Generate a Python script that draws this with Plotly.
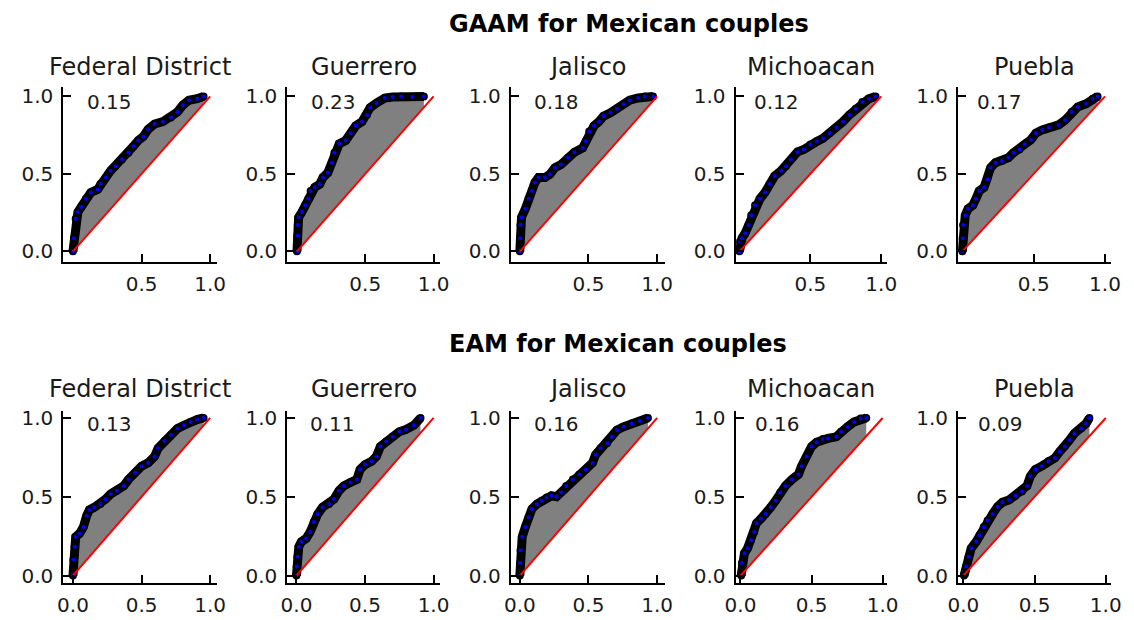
import plotly.graph_objects as go

states = ["Federal District", "Guerrero", "Jalisco", "Michoacan", "Puebla"]
row_titles = ["GAAM for Mexican couples", "EAM for Mexican couples"]

gaam_gini = [0.15, 0.23, 0.18, 0.12, 0.17]
eam_gini = [0.13, 0.11, 0.16, 0.16, 0.09]

equality = [0.0, 1.0]

gaam_fd_x = [0, 0.007, 0.02, 0.036, 0.06, 0.095, 0.13, 0.18, 0.20, 0.24, 0.274, 0.31, 0.357, 0.405, 0.44, 0.476, 0.512, 0.548, 0.595, 0.655, 0.714, 0.762, 0.80, 0.845, 0.905, 0.952]
gaam_fd_y = [0, 0.085, 0.21, 0.254, 0.286, 0.34, 0.38, 0.40, 0.434, 0.477, 0.52, 0.55, 0.593, 0.636, 0.678, 0.716, 0.74, 0.788, 0.822, 0.837, 0.864, 0.90, 0.943, 0.975, 0.985, 1.0]

gaam_gro_x = [0, 0.003, 0.006, 0.012, 0.036, 0.06, 0.083, 0.10, 0.13, 0.167, 0.19, 0.226, 0.255, 0.274, 0.31, 0.357, 0.393, 0.43, 0.476, 0.512, 0.536, 0.583, 0.643, 0.70, 0.762, 0.845, 0.929]
gaam_gro_y = [0, 0.10, 0.17, 0.22, 0.254, 0.297, 0.34, 0.39, 0.413, 0.434, 0.477, 0.508, 0.572, 0.636, 0.695, 0.716, 0.763, 0.81, 0.837, 0.88, 0.928, 0.958, 0.989, 0.996, 1.0, 0.996, 1.0]

gaam_jal_x = [0, 0.002, 0.005, 0.012, 0.04, 0.064, 0.088, 0.11, 0.136, 0.183, 0.22, 0.255, 0.30, 0.35, 0.398, 0.457, 0.48, 0.505, 0.54, 0.576, 0.61, 0.66, 0.707, 0.755, 0.80, 0.862, 0.91, 0.97]
gaam_jal_y = [0, 0.085, 0.17, 0.22, 0.275, 0.34, 0.39, 0.445, 0.477, 0.477, 0.498, 0.54, 0.56, 0.604, 0.64, 0.667, 0.71, 0.773, 0.81, 0.837, 0.873, 0.894, 0.92, 0.949, 0.975, 0.99, 1.0, 1.0]

gaam_mic_x = [0, 0.004, 0.018, 0.04, 0.064, 0.083, 0.11, 0.145, 0.18, 0.213, 0.248, 0.294, 0.328, 0.362, 0.41, 0.454, 0.50, 0.546, 0.59, 0.637, 0.683, 0.73, 0.775, 0.82, 0.867, 0.913, 0.96]
gaam_mic_y = [0, 0.064, 0.085, 0.117, 0.17, 0.233, 0.297, 0.34, 0.38, 0.434, 0.487, 0.52, 0.55, 0.593, 0.642, 0.657, 0.69, 0.71, 0.73, 0.763, 0.80, 0.837, 0.88, 0.92, 0.964, 0.985, 1.0]

gaam_pue_x = [0, 0.002, 0.005, 0.02, 0.04, 0.073, 0.095, 0.118, 0.152, 0.175, 0.198, 0.232, 0.277, 0.323, 0.357, 0.40, 0.436, 0.48, 0.516, 0.56, 0.607, 0.675, 0.72, 0.766, 0.81, 0.868, 0.914, 0.948]
gaam_pue_y = [0, 0.085, 0.17, 0.233, 0.275, 0.297, 0.34, 0.39, 0.413, 0.466, 0.54, 0.572, 0.583, 0.604, 0.636, 0.657, 0.69, 0.72, 0.763, 0.784, 0.80, 0.816, 0.847, 0.90, 0.932, 0.953, 0.985, 1.0]

eam_fd_x = [0, 0.003, 0.012, 0.02, 0.048, 0.076, 0.10, 0.12, 0.155, 0.20, 0.238, 0.274, 0.32, 0.37, 0.405, 0.452, 0.50, 0.548, 0.595, 0.62, 0.667, 0.714, 0.762, 0.81, 0.857, 0.905, 0.952]
eam_fd_y = [0, 0.10, 0.183, 0.246, 0.267, 0.308, 0.38, 0.417, 0.433, 0.454, 0.485, 0.517, 0.538, 0.569, 0.61, 0.652, 0.694, 0.715, 0.756, 0.808, 0.854, 0.892, 0.933, 0.954, 0.975, 0.99, 1.0]

eam_gro_x = [0, 0.002, 0.007, 0.017, 0.036, 0.07, 0.10, 0.126, 0.155, 0.19, 0.238, 0.274, 0.31, 0.345, 0.393, 0.44, 0.464, 0.50, 0.548, 0.583, 0.612, 0.655, 0.702, 0.75, 0.80, 0.857, 0.905]
eam_gro_y = [0, 0.058, 0.12, 0.183, 0.215, 0.235, 0.277, 0.34, 0.39, 0.433, 0.454, 0.485, 0.538, 0.569, 0.59, 0.61, 0.673, 0.704, 0.725, 0.756, 0.819, 0.85, 0.88, 0.9125, 0.927, 0.954, 1.0]

eam_jal_x = [0, 0.002, 0.005, 0.017, 0.04, 0.064, 0.088, 0.124, 0.16, 0.195, 0.23, 0.267, 0.30, 0.338, 0.386, 0.433, 0.48, 0.529, 0.552, 0.588, 0.636, 0.67, 0.707, 0.755, 0.814, 0.874, 0.933]
eam_jal_y = [0, 0.08, 0.16, 0.246, 0.308, 0.37, 0.423, 0.454, 0.475, 0.496, 0.506, 0.50, 0.527, 0.569, 0.61, 0.642, 0.673, 0.715, 0.767, 0.808, 0.84, 0.88, 0.923, 0.944, 0.965, 0.98, 1.0]

eam_mic_x = [0.005, 0.01, 0.028, 0.05, 0.074, 0.097, 0.113, 0.143, 0.177, 0.212, 0.247, 0.28, 0.316, 0.362, 0.408, 0.43, 0.465, 0.50, 0.535, 0.58, 0.615, 0.673, 0.707, 0.753, 0.80, 0.846, 0.885]
eam_mic_y = [0, 0.08, 0.142, 0.173, 0.225, 0.277, 0.333, 0.36, 0.39, 0.433, 0.475, 0.527, 0.569, 0.61, 0.642, 0.694, 0.756, 0.819, 0.846, 0.867, 0.87, 0.88, 0.9125, 0.944, 0.975, 0.996, 1.0]

eam_pue_x = [0.005, 0.02, 0.037, 0.055, 0.09, 0.113, 0.143, 0.17, 0.205, 0.24, 0.274, 0.32, 0.366, 0.412, 0.447, 0.47, 0.505, 0.55, 0.597, 0.643, 0.677, 0.712, 0.746, 0.78, 0.827, 0.862, 0.885]
eam_pue_y = [0, 0.058, 0.12, 0.173, 0.215, 0.256, 0.308, 0.35, 0.39, 0.4375, 0.465, 0.479, 0.506, 0.533, 0.569, 0.63, 0.673, 0.694, 0.725, 0.746, 0.7875, 0.819, 0.86, 0.902, 0.933, 0.965, 1.0]

curves = [
    [(gaam_fd_x, gaam_fd_y), (gaam_gro_x, gaam_gro_y), (gaam_jal_x, gaam_jal_y), (gaam_mic_x, gaam_mic_y), (gaam_pue_x, gaam_pue_y)],
    [(eam_fd_x, eam_fd_y), (eam_gro_x, eam_gro_y), (eam_jal_x, eam_jal_y), (eam_mic_x, eam_mic_y), (eam_pue_x, eam_pue_y)],
]
ginis = [gaam_gini, eam_gini]

# layout geometry (pixels of 1134 x 620 canvas)
W, H = 1134, 620
col_px = [(53.3, 210.0), (282.0, 438.0), (510.0, 667.5), (739.5, 894.0), (966.7, 1122.5)]
row_px = [(83.0, 261.0), (412.0, 587.0)]
x_ranges = [
    [(-0.071, 1.048), (-0.071, 1.048), (-0.067, 1.057), (-0.028, 1.04), (-0.03, 1.04)],
    [(-0.071, 1.048), (-0.067, 1.048), (-0.067, 1.057), (-0.035, 1.03), (-0.037, 1.035)],
]
y_ranges = [(-0.07, 1.062), (-0.05, 1.044)]
suptitle_px = [(445, 19.0), (445, 344.0)]
subtitle_py = [63.0, 390.0]

FONT = "DejaVu Sans"
TXT = "#1a1a1a"
fig = go.Figure()
layout = dict(
    width=W, height=H, margin=dict(l=0, r=0, t=0, b=0),
    paper_bgcolor="white", plot_bgcolor="white", showlegend=False,
    font=dict(family=FONT, color="black", size=20),
)
annotations = []

for r in range(2):
    for c in range(5):
        i = r * 5 + c + 1
        xa = "x" if i == 1 else f"x{i}"
        ya = "y" if i == 1 else f"y{i}"
        cx, cy = curves[r][c]
        # fill between curve and equality line
        fig.add_trace(go.Scatter(
            x=list(cx) + [cx[-1], cx[0]], y=list(cy) + [cx[-1], cx[0]],
            xaxis=xa, yaxis=ya, mode="none", fill="toself",
            fillcolor="#808080", hoverinfo="skip"))
        fig.add_trace(go.Scatter(
            x=cx, y=cy, xaxis=xa, yaxis=ya, mode="lines+markers",
            line=dict(color="black", width=9),
            marker=dict(size=6, color="#0000ff", line=dict(color="black", width=2))))
        fig.add_trace(go.Scatter(
            x=equality, y=equality, xaxis=xa, yaxis=ya, mode="lines",
            line=dict(color="red", width=2)))

        x0, x1 = col_px[c]
        y0, y1 = row_px[r]
        axcommon = dict(showgrid=False, zeroline=False, showline=True, linecolor="black",
                        linewidth=2, ticks="inside", ticklen=8, tickwidth=1.5,
                        tickcolor="black", tickfont=dict(size=20, family=FONT, color=TXT),
                        tickformat=".1f")
        xtv = [0.5, 1.0] if r == 0 else [0.0, 0.5, 1.0]
        layout["xaxis" if i == 1 else f"xaxis{i}"] = dict(
            domain=[x0 / W, x1 / W], range=list(x_ranges[r][c]), anchor=ya,
            tickvals=xtv, ticklabelstandoff=3, **axcommon)
        layout["yaxis" if i == 1 else f"yaxis{i}"] = dict(
            domain=[1 - y1 / H, 1 - y0 / H], range=list(y_ranges[r]), anchor=xa,
            tickvals=[0.0, 0.5, 1.0], ticklabelstandoff=4, **axcommon)

        annotations.append(dict(
            text=states[c], x=(x0 + x1) / 2 / W, y=1 - subtitle_py[r] / H,
            xref="paper", yref="paper", xanchor="center", yanchor="middle",
            showarrow=False, font=dict(size=24, family=FONT, color=TXT)))
        annotations.append(dict(
            text=f"{ginis[r][c]:.2f}", x=0.1, y=0.9, xref=xa, yref=ya,
            xanchor="left", yanchor="bottom", xshift=-2, yshift=-4,
            showarrow=False, font=dict(size=20, family=FONT, color=TXT)))
    annotations.append(dict(
        text=f"<b>{row_titles[r]}</b>", x=suptitle_px[r][0] / W, y=1 - suptitle_px[r][1] / H,
        xref="paper", yref="paper", xanchor="left", yanchor="middle",
        showarrow=False, font=dict(size=24, family=FONT, color="black")))

layout["annotations"] = annotations
fig.update_layout(**layout)
fig.write_html("out.html")
